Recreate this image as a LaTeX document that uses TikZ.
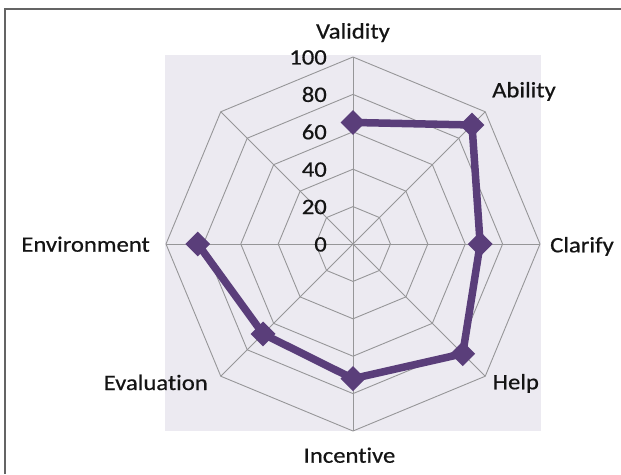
\documentclass[tikz,border=0pt]{standalone}
\usepackage{fontspec}
\setmainfont{Carlito}[FakeStretch=1.12, FakeBold=0.6, Ligatures=NoCommon, RawFeature=-liga]
\usetikzlibrary{shapes.geometric}
\definecolor{plotbg}{RGB}{236,234,241}
\definecolor{gridgray}{RGB}{150,150,152}
\definecolor{series}{RGB}{90,62,122}
\definecolor{framegray}{RGB}{100,100,100}
\tikzset{
  gridline/.style={draw=gridgray, line width=0.9pt},
  seriesline/.style={draw=series, line width=7.5pt, line join=miter},
  marker/.style={shape=diamond, fill=series, inner sep=0pt, minimum width=25pt, minimum height=25pt},
  catlabel/.style={inner sep=0pt, font=\fontsize{22}{24}\selectfont, text=black!92},
  numlabel/.style={inner sep=0pt, anchor=base east, font=\fontsize{22}{24}\selectfont, text=black!92}
}
\begin{document}
\begin{tikzpicture}[x=1pt,y=-1pt]
\useasboundingbox (0,0) rectangle (621,474);
\fill[white] (0,0) rectangle (621,474);
\draw[framegray, line width=1.5pt] (5,474) -- (5,9) -- (621,9);
\fill[plotbg] (165,55) rectangle (541,431);
\begin{scope}[shift={(353,244)}, x=1.87pt, y=-1.87pt]
  \coordinate (O) at (0,0);
  % rings
  \foreach \r in {20,40,60,80,100}
    \draw[gridline] (0:\r) -- (45:\r) -- (90:\r) -- (135:\r) -- (180:\r) -- (225:\r) -- (270:\r) -- (315:\r) -- cycle;
  % spokes
  \foreach \a in {0,45,...,315}
    \draw[gridline] (O) -- (\a:100);
  % scale numbers
  \foreach \r in {0,20,40,60,80,100}
    \node[numlabel] (n\r) at (-13.9,{-\r+4}) {\r};
  % data points
  \coordinate (d1) at (-90:65);
  \coordinate (d2) at (-45:90);
  \coordinate (d3) at (0:68);
  \coordinate (d4) at (45:83);
  \coordinate (d5) at (90:72);
  \coordinate (d6) at (135:68);
  \coordinate (d7) at (180:83);
  \draw[seriesline] (d1) -- (d2) -- (d3) -- (d4) -- (d5) -- (d6) -- (d7);
  \foreach \i in {1,...,7}
    \node[marker] (m\i) at (d\i) {};
\end{scope}
% category labels
\node[catlabel, anchor=base] (validity) at (353,38.5) {Validity};
\node[catlabel, anchor=base west] (ability) at (492,97.3) {Ability};
\node[catlabel, anchor=base west] (clarify) at (550,252.3) {Clarify};
\node[catlabel, anchor=base west] (help) at (492.5,389.3) {Help};
\node[catlabel, anchor=base] (incentive) at (349.5,462.7) {Incentive};
\node[catlabel, anchor=base east] (evaluation) at (208,390) {Evaluation};
\node[catlabel, anchor=base east] (environment) at (150,251.7) {Environment};
\end{tikzpicture}
\end{document}
